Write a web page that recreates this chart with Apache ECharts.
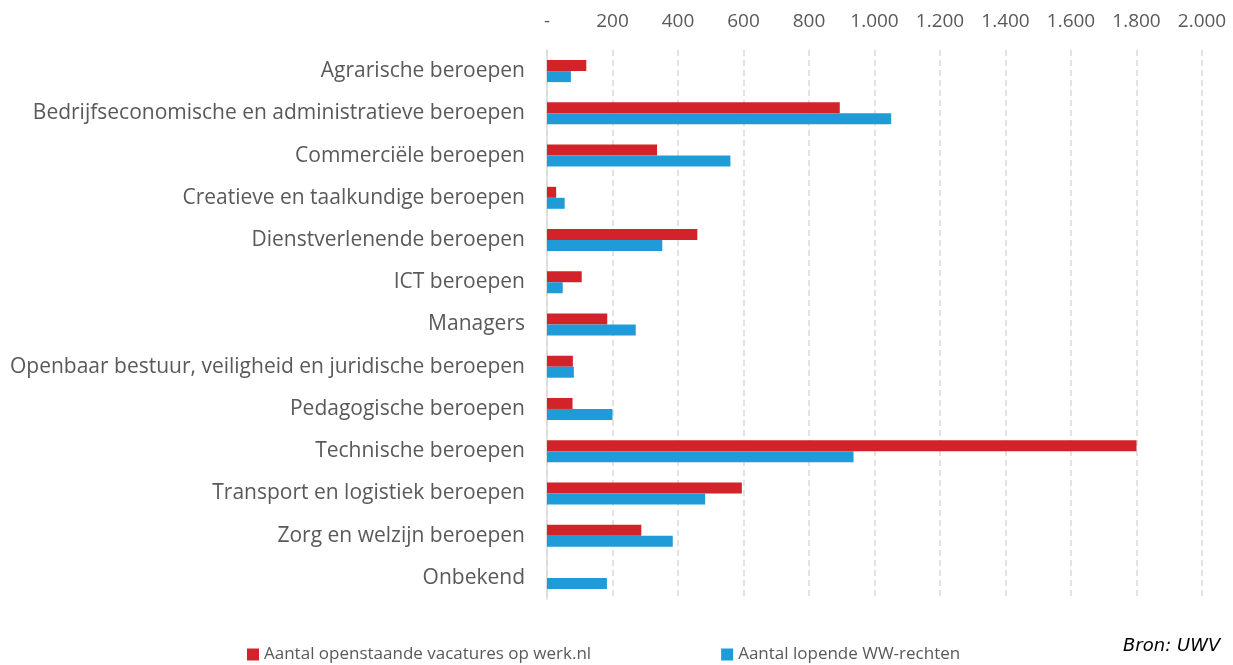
<!DOCTYPE html>
<html>
<head>
<meta charset="utf-8">
<script src="https://cdn.jsdelivr.net/npm/echarts@6/dist/echarts.min.js"></script>
<style>
html, body { margin: 0; padding: 0; background: #fff; }
#chart { width: 1233px; height: 665px; }
</style>
</head>
<body>
<div id="chart"></div>
<script>
var categories = [
    'Agrarische beroepen',
    'Bedrijfseconomische en administratieve beroepen',
    'Commerciële beroepen',
    'Creatieve en taalkundige beroepen',
    'Dienstverlenende beroepen',
    'ICT beroepen',
    'Managers',
    'Openbaar bestuur, veiligheid en juridische beroepen',
    'Pedagogische beroepen',
    'Technische beroepen',
    'Transport en logistiek beroepen',
    'Zorg en welzijn beroepen',
    'Onbekend'
];
var vacatures = [120, 894, 336, 28, 459, 106, 184, 79, 78, 1800, 595, 288, 0];
var wwRechten = [73, 1051, 560, 54, 352, 48, 271, 82, 200, 936, 483, 384, 183];
var seriesNames = ['Aantal openstaande vacatures op werk.nl', 'Aantal lopende WW-rechten'];

// 0 wordt '-', duizendtallen met een punt
function fmt(v) {
    if (v === 0) return '-';
    return String(v).replace(/\B(?=(\d{3})+(?!\d))/g, '.');
}

var myChart = echarts.init(document.getElementById('chart'));
var option = {
    animation: false,
    textStyle: { fontFamily: 'Open Sans' },
    grid: { left: 547, right: 31, top: 50, bottom: 66, containLabel: false },
    legend: {
        left: 242,
        top: 641,
        icon: 'rect',
        itemWidth: 12,
        itemHeight: 12,
        itemGap: 130,
        textStyle: { color: '#595959', fontSize: 17, fontFamily: 'Open Sans' },
        data: seriesNames
    },
    xAxis: {
        type: 'value',
        position: 'top',
        min: 0,
        max: 2000,
        interval: 200,
        axisLine: { show: false },
        axisTick: { show: false },
        axisLabel: {
            color: '#595959',
            fontSize: 19,
            margin: 19,
            formatter: fmt
        },
        splitLine: {
            show: true,
            lineStyle: { color: '#d9d9d9', type: [6, 4], width: 1.5 }
        }
    },
    yAxis: {
        type: 'category',
        inverse: true,
        data: categories,
        axisLine: { show: true, lineStyle: { color: '#d9d9d9', width: 1.5 } },
        axisTick: { show: false },
        axisLabel: { color: '#595959', fontSize: 21, margin: 22 }
    },
    series: [{
        name: seriesNames[0],
        type: 'bar',
        data: vacatures,
        barWidth: 11,
        barGap: '0%',
        itemStyle: { color: '#d2232a' }
    }, {
        name: seriesNames[1],
        type: 'bar',
        data: wwRechten,
        barWidth: 11,
        barGap: '0%',
        itemStyle: { color: '#1f9bd7' }
    }],
    graphic: [{
        type: 'text',
        left: 1123,
        top: 637,
        style: {
            text: 'Bron: UWV',
            font: 'italic 18px "DejaVu Sans"',
            fill: '#000'
        }
    }]
};
myChart.setOption(option);
window.addEventListener('resize', function () { myChart.resize(); });
</script>
</body>
</html>
